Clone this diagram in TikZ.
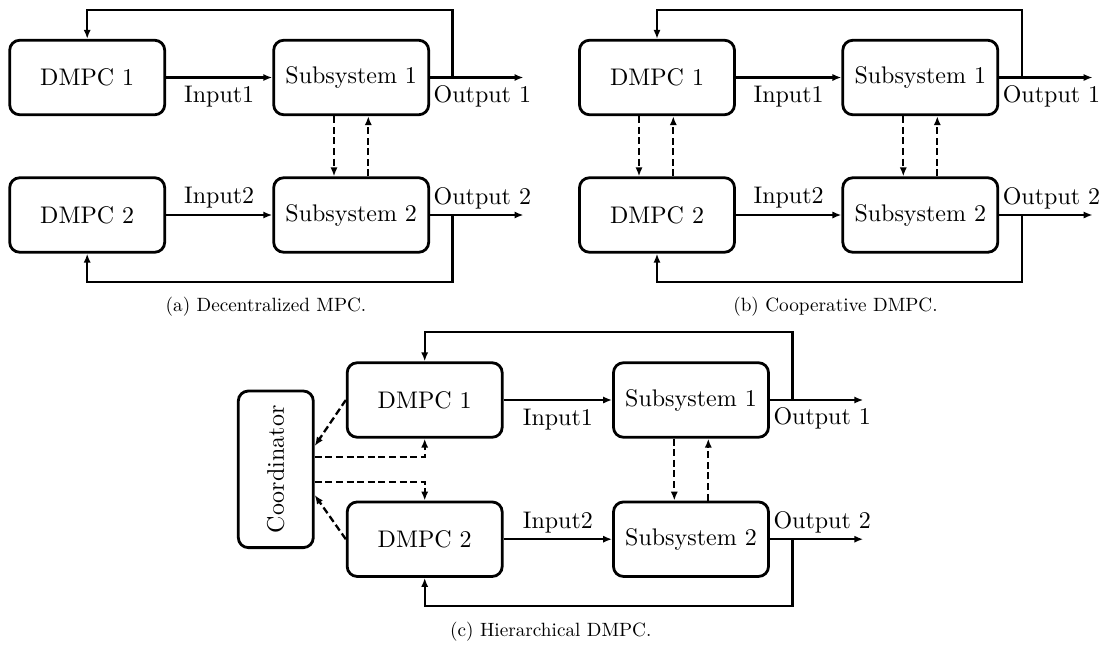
\documentclass[tikz,border=0pt]{standalone}
\usetikzlibrary{arrows.meta,calc}
\newcommand{\sctext}[1]{\scalebox{1.2}{#1}}
\tikzset{
 blk/.style={draw, line width=1.4pt, rounded corners=5pt, minimum width=77.5pt, minimum height=37.25pt, inner sep=0pt, font=\fontsize{10}{12}\selectfont},
 arr/.style={line width=1.15pt, -{Latex[length=4.5pt,width=3.6pt]}},
 darr/.style={arr, dash pattern=on 3.5pt off 1.8pt},
 lblb/.style={font=\fontsize{10}{12}\selectfont, inner xsep=1.6pt, inner ysep=3.8pt},
 lbla/.style={font=\fontsize{10}{12}\selectfont, inner xsep=1.6pt, inner ysep=2.7pt},
 captext/.style={font=\fontsize{9.6}{11.5}\selectfont},
}
\begin{document}
\begin{tikzpicture}[x=0.5pt,y=-0.5pt]
\useasboundingbox (0,0) rectangle (1104,645);
% ---------- (a)
\node[blk] (a-d1) at (87.2,77.5) {\sctext{DMPC 1}};
\node[blk] (a-s1) at (351.2,77.5) {\sctext{Subsystem 1}};
\node[blk] (a-d2) at (87.2,215) {\sctext{DMPC 2}};
\node[blk] (a-s2) at (351.2,215) {\sctext{Subsystem 2}};
\draw[arr] (a-d1) -- node[lblb,below]{\sctext{Input1}} (a-s1);
\draw[arr] (a-d2) -- node[lbla,above]{\sctext{Input2}} (a-s2);
\coordinate (a-o1) at ($(a-s1.east)+(93.4,0)$);
\coordinate (a-o2) at ($(a-s2.east)+(93.4,0)$);
\draw[arr] (a-s1.east) -- (a-o1);
\draw[arr] (a-s2.east) -- (a-o2);
\node[lblb,anchor=north west] (a-l1) at (a-s1.east) {\sctext{Output 1}};
\node[lbla,anchor=south west] (a-l2) at (a-s2.east) {\sctext{Output 2}};
\draw[arr] ($(a-s1.east)+(22.4,0)$) -- ++(0,-67.5) -| (a-d1.north);
\draw[arr] ($(a-s2.east)+(22.4,0)$) -- ++(0,67) -| (a-d2.south);
\draw[darr] ($(a-s1.south)+(-17.2,0)$) -- ($(a-s2.north)+(-17.2,0)$);
\draw[darr] ($(a-s2.north)+(17.1,0)$) -- ($(a-s1.south)+(17.1,0)$);
\node[captext] (a-cap) at (266,306.7) {(a) Decentralized MPC.};
% ---------- (b)
\node[blk] (b-d1) at (657,77.5) {\sctext{DMPC 1}};
\node[blk] (b-s1) at (920.3,77.5) {\sctext{Subsystem 1}};
\node[blk] (b-d2) at (657,215) {\sctext{DMPC 2}};
\node[blk] (b-s2) at (920.3,215) {\sctext{Subsystem 2}};
\draw[arr] (b-d1) -- node[lblb,below]{\sctext{Input1}} (b-s1);
\draw[arr] (b-d2) -- node[lbla,above]{\sctext{Input2}} (b-s2);
\coordinate (b-o1) at ($(b-s1.east)+(93.4,0)$);
\coordinate (b-o2) at ($(b-s2.east)+(93.4,0)$);
\draw[arr] (b-s1.east) -- (b-o1);
\draw[arr] (b-s2.east) -- (b-o2);
\node[lblb,anchor=north west] (b-l1) at (b-s1.east) {\sctext{Output 1}};
\node[lbla,anchor=south west] (b-l2) at (b-s2.east) {\sctext{Output 2}};
\draw[arr] ($(b-s1.east)+(22.7,0)$) -- ++(0,-67.5) -| (b-d1.north);
\draw[arr] ($(b-s2.east)+(22.7,0)$) -- ++(0,67) -| (b-d2.south);
\draw[darr] ($(b-s1.south)+(-17,0)$) -- ($(b-s2.north)+(-17,0)$);
\draw[darr] ($(b-s2.north)+(17,0)$) -- ($(b-s1.south)+(17,0)$);
\draw[darr] ($(b-d1.south)+(-18,0)$) -- ($(b-d2.north)+(-18,0)$);
\draw[darr] ($(b-d2.north)+(16.3,0)$) -- ($(b-d1.south)+(16.3,0)$);
\node[captext] (b-cap) at (835.5,306.7) {(b) Cooperative DMPC.};
% ---------- (c)
\node[blk] (c-d1) at (424.7,400) {\sctext{DMPC 1}};
\node[blk] (c-s1) at (691,400) {\sctext{Subsystem 1}};
\node[blk] (c-d2) at (424.7,539.2) {\sctext{DMPC 2}};
\node[blk] (c-s2) at (691,539.2) {\sctext{Subsystem 2}};
\node[blk, minimum width=37.5pt, minimum height=78.3pt] (c-co) at (275.8,469.3) {\rotatebox{90}{\sctext{Coordinator}}};
\draw[arr] (c-d1) -- node[lblb,below]{\sctext{Input1}} (c-s1);
\draw[arr] (c-d2) -- node[lbla,above]{\sctext{Input2}} (c-s2);
\coordinate (c-o1) at ($(c-s1.east)+(93.4,0)$);
\coordinate (c-o2) at ($(c-s2.east)+(93.4,0)$);
\draw[arr] (c-s1.east) -- (c-o1);
\draw[arr] (c-s2.east) -- (c-o2);
\node[lblb,anchor=north west] (c-l1) at (c-s1.east) {\sctext{Output 1}};
\node[lbla,anchor=south west] (c-l2) at (c-s2.east) {\sctext{Output 2}};
\draw[arr] ($(c-s1.east)+(22.5,0)$) -- ++(0,-68.3) -| (c-d1.north);
\draw[arr] ($(c-s2.east)+(22.5,0)$) -- ++(0,66.8) -| (c-d2.south);
\draw[darr] ($(c-s1.south)+(-16.7,0)$) -- ($(c-s2.north)+(-16.7,0)$);
\draw[darr] ($(c-s2.north)+(17.3,0)$) -- ($(c-s1.south)+(17.3,0)$);
\draw[darr] (c-d1.west) -- ($(c-co.east)+(0,-23.3)$);
\draw[darr] ($(c-co.east)+(0,-12.6)$) -| (c-d1.south);
\draw[darr] ($(c-co.east)+(0,12.4)$) -| (c-d2.north);
\draw[darr] (c-d2.west) -- ($(c-co.east)+(0,25.7)$);
\node[captext] (c-cap) at (550.8,631.7) {(c) Hierarchical DMPC.};
\end{tikzpicture}
\end{document}
